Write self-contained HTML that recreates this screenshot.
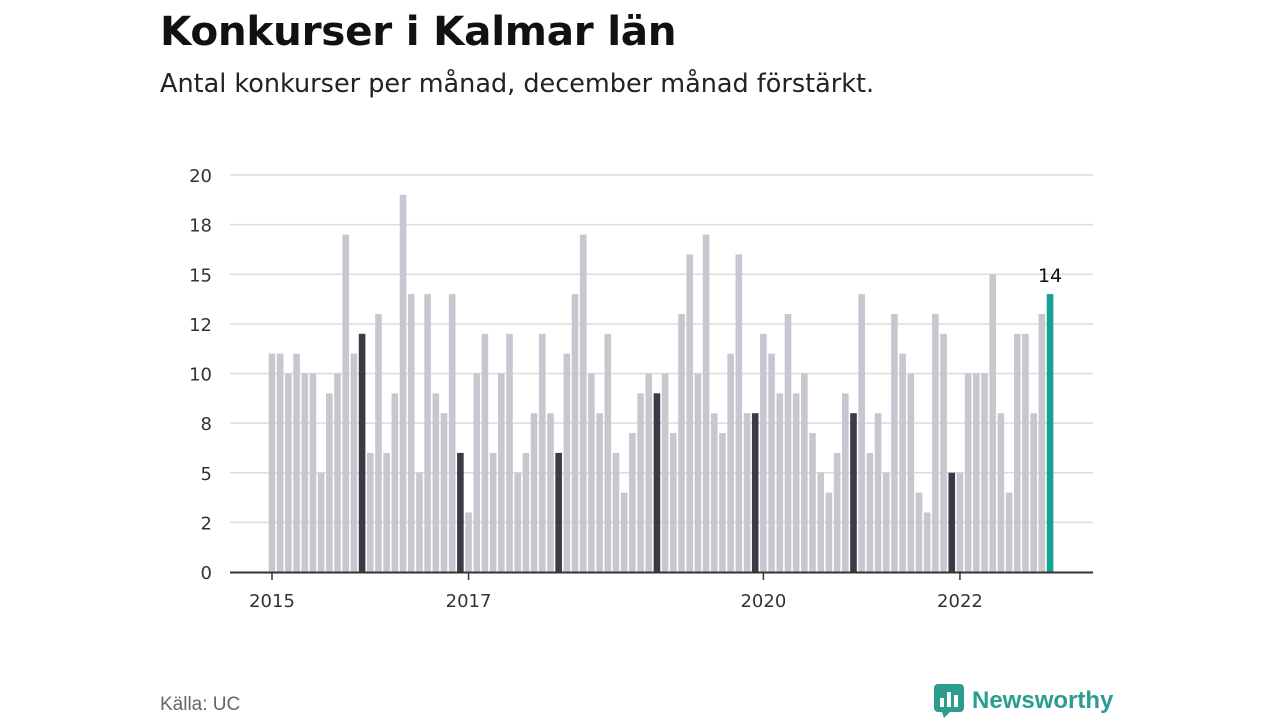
<!DOCTYPE html>
<html><head><meta charset="utf-8"><style>
body{margin:0;width:1280px;height:720px;background:#fff;font-family:"Liberation Sans","DejaVu Sans",sans-serif;overflow:hidden;position:relative;color:#111}
#title{position:absolute;left:160px;top:7px;font-family:"DejaVu Sans",sans-serif;font-size:40.5px;font-weight:bold;margin:0;letter-spacing:-0.3px}
#sub{position:absolute;left:160px;top:69px;font-family:"DejaVu Sans",sans-serif;font-size:25.5px;color:#222}
#src{position:absolute;left:160px;top:694px;font-size:19px;color:#666}
#brand{position:absolute;left:934px;top:684px;font-size:24px;font-weight:bold;color:#2a9d8f;display:flex;align-items:center;gap:8px}
svg{position:absolute;left:0;top:0}
svg text{font-family:"DejaVu Sans",sans-serif}
</style></head><body>
<h1 id="title">Konkurser i Kalmar län</h1>
<div id="sub">Antal konkurser per månad, december månad förstärkt.</div>
<svg id="chart" width="1280" height="720"></svg>
<div id="src">Källa: UC</div>
<div id="brand"><svg width="30" height="34" style="position:static"><rect x="0" y="0" width="30" height="28" rx="4" fill="#2a9d8f"/><polygon points="8,28 16,28 10,34" fill="#2a9d8f"/><rect x="6" y="14" width="4" height="9" fill="#fff"/><rect x="13" y="8" width="4" height="15" fill="#fff"/><rect x="20" y="11" width="4" height="12" fill="#fff"/></svg>Newsworthy</div>
<script>
const values=[11,11,10,11,10,10,5,9,10,17,11,12,6,13,6,9,19,14,5,14,9,8,14,6,3,10,12,6,10,12,5,6,8,12,8,6,11,14,17,10,8,12,6,4,7,9,10,9,10,7,13,16,10,17,8,7,11,16,8,8,12,11,9,13,9,10,7,5,4,6,9,8,14,6,8,5,13,11,10,4,3,13,12,5,5,10,10,10,15,8,4,12,12,8,13,14];
const yTicks=[0,2.5,5,7.5,10,12.5,15,17.5,20];
const yTickLabels=["0","2","5","8","10","12","15","18","20"];
const xTickMonths=[0,24,60,84];
const xTickLabels=["2015","2017","2020","2022"];
const NS="http://www.w3.org/2000/svg";
const svg=document.getElementById('chart');
const y=v=>572-v*19.85;
const x=i=>272+i*8.19;
function mk(t,a){const e=document.createElementNS(NS,t);for(const k in a)e.setAttribute(k,a[k]);svg.appendChild(e);return e;}
yTicks.forEach((t,i)=>{
 if(t>0){const g=mk('line',{x1:230,x2:1093,y1:y(t),y2:y(t),stroke:'#dcdcdc','stroke-width':1.5});
 
 }
 const l=mk('text',{x:212,y:y(t)+7,'text-anchor':'end','font-size':18,fill:'#333'});
 l.textContent=yTickLabels[i];
 
 
});
values.forEach((v,i)=>{
 const last=i===values.length-1;
 const fill=last?'#13a395':(i%12===11?'#3c3a47':'#c8c7cf');
 const r=mk('rect',{x:x(i)-3.3,y:y(v),width:6.6,height:572-y(v),fill:fill});
 
 
 if(last){const t=mk('text',{x:x(i),y:y(v)-12,'text-anchor':'middle','font-size':19,fill:'#111'});t.textContent=v;
 
 }
});
const ax=mk('line',{x1:230,x2:1093,y1:572.5,y2:572.5,stroke:'#333','stroke-width':2});


xTickMonths.forEach((m,i)=>{
 const tk=mk('line',{x1:x(m),x2:x(m),y1:572,y2:580,stroke:'#333','stroke-width':1.5});
 
 
 const t=mk('text',{x:x(m),y:607,'text-anchor':'middle','font-size':18,fill:'#333'});
 t.textContent=xTickLabels[i];
 
 
});
</script>
</body></html>
